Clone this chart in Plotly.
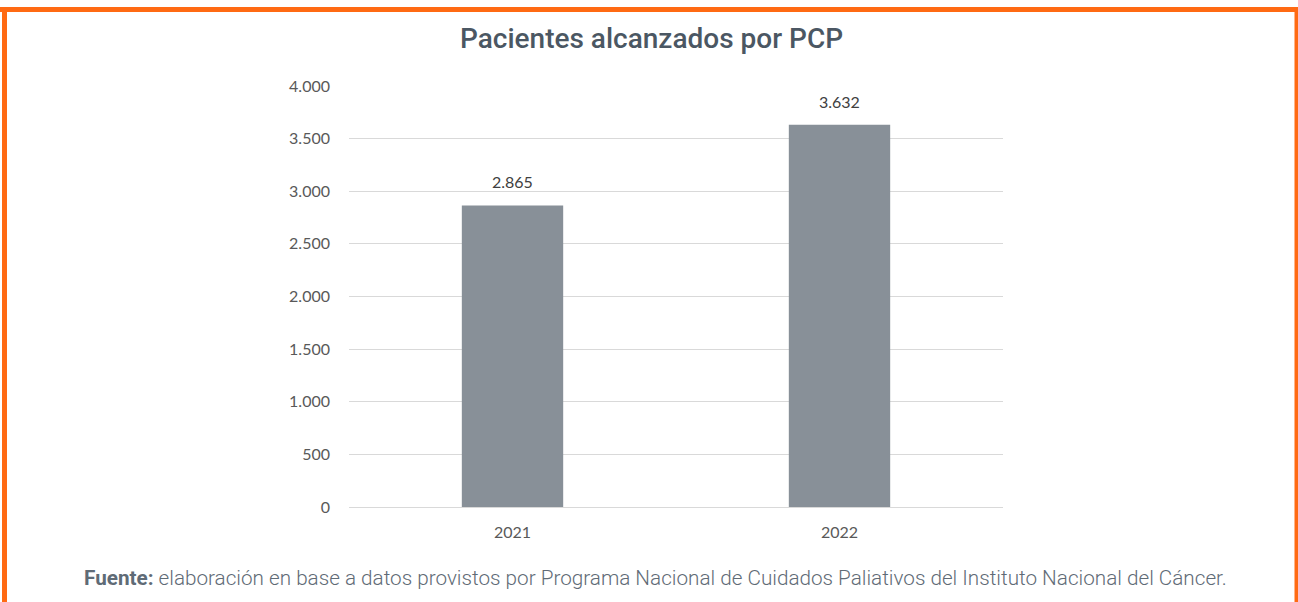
import plotly.graph_objects as go

categories = ["2021", "2022"]
values = [2865, 3632]
y_ticks = [0, 500, 1000, 1500, 2000, 2500, 3000, 3500, 4000]

title_text = "Pacientes alcanzados por PCP"
source_bold = "Fuente:"
source_text = " elaboración en base a datos provistos por Programa Nacional de Cuidados Paliativos del Instituto Nacional del Cáncer."

W, H = 1298, 602
L, R, T, B = 349, 1003, 86, 507
pw, ph = R - L, B - T

def px(x):
    return (x - L) / pw

def py(y):
    return (B - y) / ph

fig = go.Figure()
fig.add_trace(go.Bar(
    x=categories, y=values,
    marker=dict(color="#889098", line=dict(width=0)),
    width=0.31,
    hoverinfo="skip",
))

# value labels placed above each bar (category index on the category axis)
annotations = [
    dict(text=f"{v:,}".replace(",", "."), x=i, y=v, xref="x", yref="y",
         xanchor="center", yanchor="bottom", yshift=12, showarrow=False,
         font=dict(family="Lato", size=16, color="#404040"))
    for i, v in enumerate(values)
]
annotations += [
    dict(text=title_text, xref="paper", yref="paper",
         x=px(651), y=py(38), xanchor="center", yanchor="middle",
         showarrow=False,
         font=dict(family="Roboto", size=28, color="#4b5763", weight=500)),
    dict(text="<b>" + source_bold + "</b>" + source_text,
         xref="paper", yref="paper",
         x=px(655), y=py(578), xanchor="center", yanchor="middle",
         showarrow=False,
         font=dict(family="Roboto", size=20.7, color="#5f6b76", weight=300)),
]

fig.update_layout(
    width=W, height=H,
    margin=dict(l=L, r=W - R, t=T, b=H - B),
    paper_bgcolor="white", plot_bgcolor="white",
    separators=",.",
    showlegend=False,
    xaxis=dict(type="category", range=[-0.5, len(categories) - 0.5],
               showgrid=False, showline=False, zeroline=False,
               fixedrange=True,
               tickfont=dict(family="Lato", size=16, color="#595959"),
               ticks="", ticklabelstandoff=14),
    yaxis=dict(range=[0, 4000], tickvals=y_ticks, tickformat=",d",
               fixedrange=True,
               showgrid=True, gridcolor="#d9d9d9", gridwidth=1,
               zeroline=True, zerolinecolor="#d9d9d9", zerolinewidth=1,
               showline=False,
               tickfont=dict(family="Lato", size=16, color="#595959"),
               ticks="", ticklabelstandoff=18),
    annotations=annotations,
    shapes=[
        dict(type="line", xref="paper", yref="paper",
             x0=px(0), x1=px(W), y0=py(9.5), y1=py(9.5),
             line=dict(color="#ff6a13", width=5)),
        dict(type="line", xref="paper", yref="paper",
             x0=px(4.5), x1=px(4.5), y0=py(7), y1=py(H),
             line=dict(color="#ff6a13", width=5)),
        dict(type="line", xref="paper", yref="paper",
             x0=px(1296.5), x1=px(1296.5), y0=py(7), y1=py(H),
             line=dict(color="#ff6a13", width=4)),
    ],
)

fig.write_html("out.html",
               config={"displayModeBar": False, "staticPlot": True},
               post_script="document.body.style.margin='0';document.body.style.overflow='hidden';")
